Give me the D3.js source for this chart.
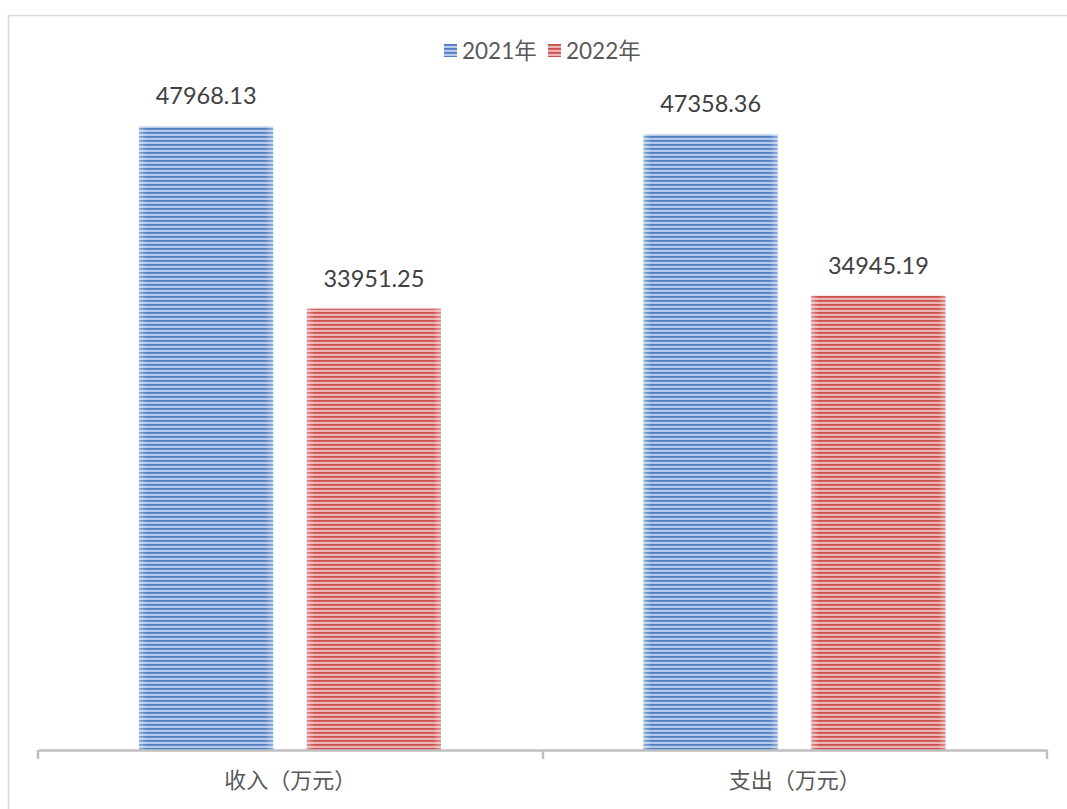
<!DOCTYPE html>
<html><head><meta charset="utf-8">
<script src="https://cdn.jsdelivr.net/npm/d3@7"></script>
<style>body{margin:0;background:#fff;} svg{display:block;}</style>
</head><body>
<script>
const categories = ["收入（万元）", "支出（万元）"];
const seriesNames = ["2021年", "2022年"];
const values2021 = [47968.13, 47358.36];
const values2022 = [33951.25, 34945.19];
const yMax = 50000;

const W = 1067, H = 809;
const svg = d3.select("body").append("svg").attr("width", W).attr("height", H);
const font = "Lato, 'Noto Sans CJK SC', sans-serif";

const defs = svg.append("defs");
const palettes = [
  {id: "p0", dark: "#4f7fc2", mid: "#86a9db", light: "#d3e0f2"},
  {id: "p1", dark: "#c9504e", mid: "#df8a89", light: "#f5cfcf"}
];
palettes.forEach(p => {
  const pat = defs.append("pattern").attr("id", p.id).attr("patternUnits", "userSpaceOnUse")
    .attr("width", 8).attr("height", 4);
  pat.append("rect").attr("width", 8).attr("height", 4).attr("fill", p.mid);
  pat.append("rect").attr("y", 0).attr("width", 8).attr("height", 1.6).attr("fill", p.dark);
  pat.append("rect").attr("y", 2.4).attr("width", 8).attr("height", 1.2).attr("fill", p.light);
  const g = defs.append("linearGradient").attr("id", p.id + "edge");
  g.append("stop").attr("offset", "0%").attr("stop-color", "#fff").attr("stop-opacity", 0.35);
  g.append("stop").attr("offset", "6%").attr("stop-color", "#fff").attr("stop-opacity", 0);
  g.append("stop").attr("offset", "94%").attr("stop-color", "#fff").attr("stop-opacity", 0);
  g.append("stop").attr("offset", "100%").attr("stop-color", "#fff").attr("stop-opacity", 0.35);
});

// chart border
svg.append("rect").attr("x", 8.5).attr("y", 15.5).attr("width", 1080).attr("height", 820)
  .attr("fill", "none").attr("stroke", "#d9d9d9").attr("stroke-width", 1.5);

const x0 = d3.scaleBand().domain(categories).range([38, 1047]).paddingInner(0).paddingOuter(0);
const x1 = d3.scaleBand().domain(seriesNames).range([101, 403]).paddingInner(0.2).paddingOuter(0);
const y = d3.scaleLinear().domain([0, yMax]).range([750, 100]);

const data = categories.map((c, i) => ({cat: c, vals: [values2021[i], values2022[i]]}));

const groups = svg.selectAll("g.cat").data(data).join("g")
  .attr("transform", d => `translate(${x0(d.cat)},0)`);

groups.each(function(d) {
  const g = d3.select(this);
  d.vals.forEach((v, j) => {
    const xs = x1(seriesNames[j]);
    g.append("rect").attr("x", xs).attr("y", y(v)).attr("width", x1.bandwidth())
      .attr("height", y(0) - y(v)).attr("fill", `url(#p${j})`);
    g.append("rect").attr("x", xs).attr("y", y(v)).attr("width", x1.bandwidth())
      .attr("height", y(0) - y(v)).attr("fill", `url(#p${j}edge)`);
    g.append("text").attr("x", xs + x1.bandwidth() / 2).attr("y", y(v) - 22)
      .attr("text-anchor", "middle").attr("font-family", font).attr("font-size", 23.5)
      .attr("fill", "#404040").text(v.toFixed(2));
  });
});

// axis
const axis = d3.axisBottom(x0).tickSizeInner(0).tickSizeOuter(0).tickFormat("");
const ax = svg.append("g").attr("transform", "translate(0,750)").call(axis);
ax.select(".domain").attr("stroke", "#bfbfbf").attr("stroke-width", 2.5);
ax.selectAll(".tick").remove();
[38, 543, 1047].forEach(xx => {
  ax.append("line").attr("x1", xx).attr("x2", xx).attr("y1", 0).attr("y2", 9)
    .attr("stroke", "#bfbfbf").attr("stroke-width", 2.5);
});
categories.forEach(c => {
  svg.append("text").attr("x", x0(c) + x0.bandwidth() / 2).attr("y", 788)
    .attr("text-anchor", "middle").attr("font-family", font).attr("font-size", 22)
    .attr("fill", "#595959").text(c);
});

// legend
const leg = svg.append("g");
const legItems = [{n: seriesNames[0], x: 444}, {n: seriesNames[1], x: 548}];
legItems.forEach((it, j) => {
  leg.append("rect").attr("x", it.x).attr("y", 44).attr("width", 13).attr("height", 13)
    .attr("fill", `url(#p${j})`);
  leg.append("text").attr("x", it.x + 18).attr("y", 59).attr("font-family", font)
    .attr("font-size", 22.5).attr("fill", "#595959").text(it.n);
});
</script>
</body></html>
